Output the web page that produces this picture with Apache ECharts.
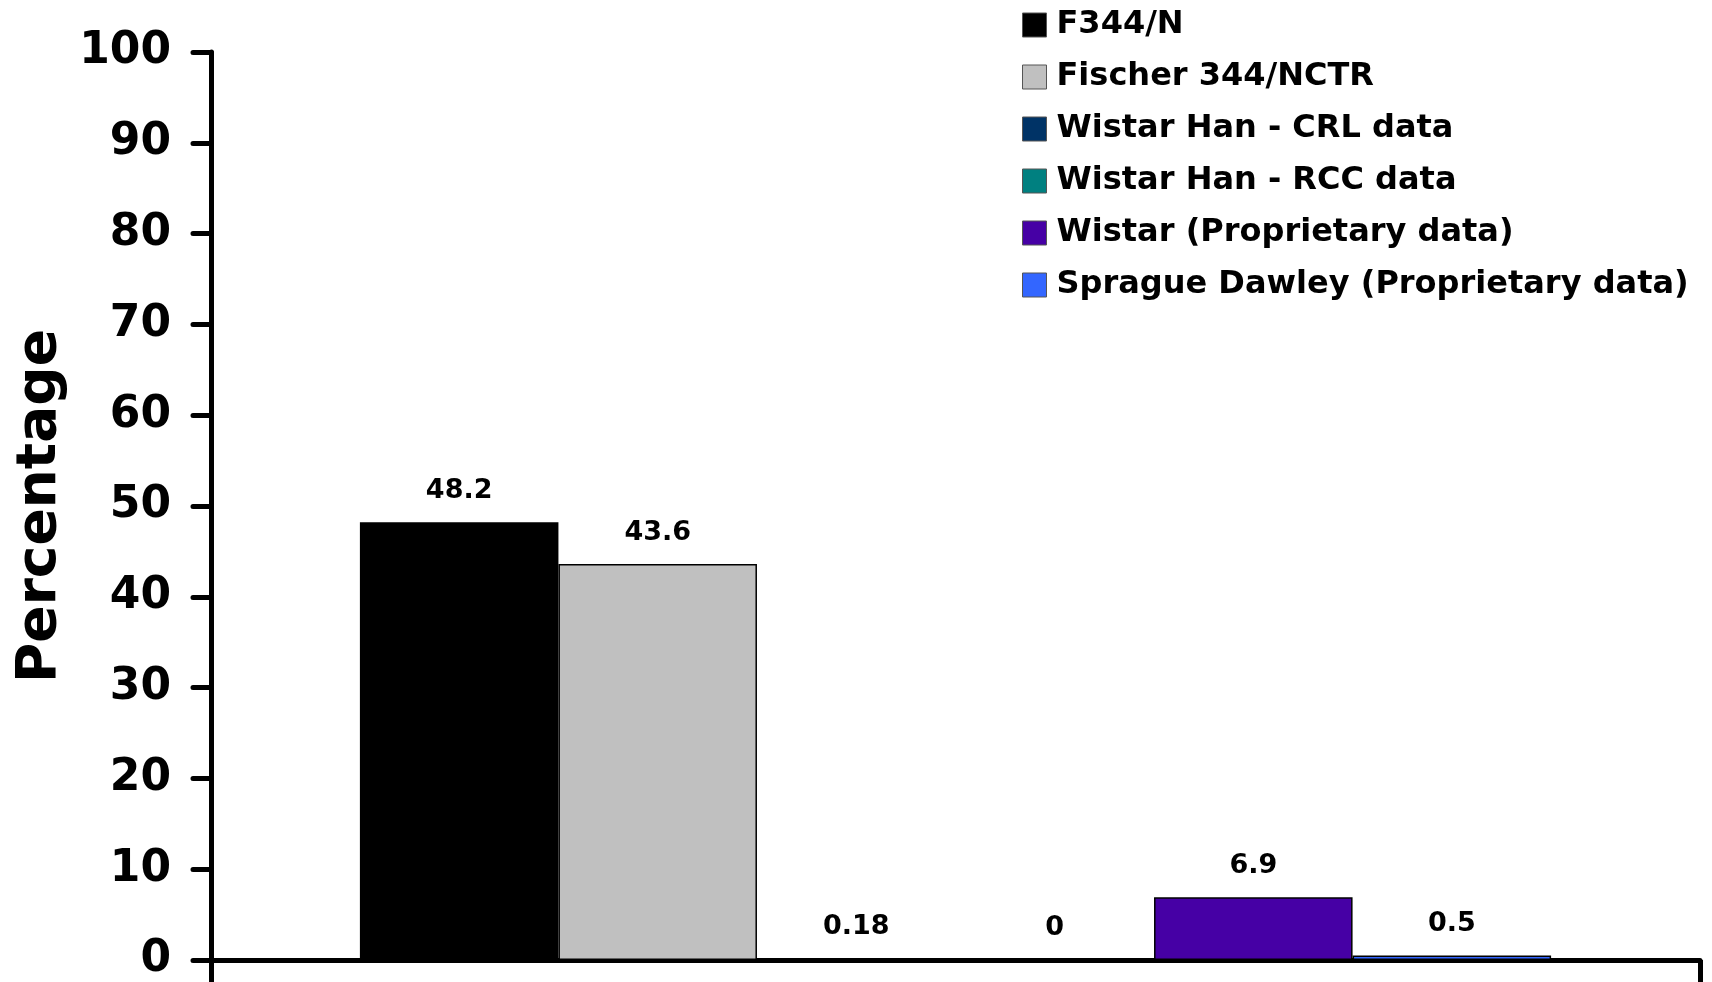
<!DOCTYPE html>
<html>
<head>
<meta charset="utf-8">
<script src="https://cdn.jsdelivr.net/npm/echarts@6/dist/echarts.min.js"></script>
<style>
html,body{margin:0;padding:0;background:#fff;}
#chart{width:1712px;height:982px;}
</style>
</head>
<body>
<div id="chart"></div>
<script>
const categories = [''];
const seriesNames = ['F344/N', 'Fischer 344/NCTR', 'Wistar Han - CRL data', 'Wistar Han - RCC data', 'Wistar (Proprietary data)', 'Sprague Dawley (Proprietary data)'];
const seriesValues = [48.2, 43.6, 0.18, 0, 6.9, 0.5];
const seriesColors = ['#000000', '#C0C0C0', '#003366', '#008080', '#4600A5', '#3366FF'];
const yTicks = { min: 0, max: 100, interval: 10 };

const FONT = '"DejaVu Sans", Verdana, sans-serif';
const chart = echarts.init(document.getElementById('chart'), null, { renderer: 'canvas' });

const series = seriesNames.map((name, i) => ({
  name: name,
  type: 'bar',
  data: [seriesValues[i]],
  barGap: '0%',
  barCategoryGap: '20%',
  itemStyle: { color: seriesColors[i], borderColor: '#000', borderWidth: 1.5 },
  label: {
    show: true,
    position: 'top',
    distance: 18,
    color: '#000',
    fontFamily: FONT,
    fontWeight: 'bold',
    fontSize: 27
  },
  emphasis: { disabled: true },
  animation: false
}));

chart.setOption({
  animation: false,
  backgroundColor: '#fff',
  grid: { left: 211, right: 12, top: 52, bottom: 20, containLabel: false },
  legend: {
    orient: 'vertical',
    left: 1017,
    top: 4,
    itemWidth: 24,
    itemHeight: 24,
    itemGap: 20,
    icon: 'rect',
    selectedMode: false,
    itemStyle: { borderColor: '#555', borderWidth: 1 },
    textStyle: { color: '#000', fontFamily: FONT, fontWeight: 'bold', fontSize: 32, lineHeight: 32, padding: [0, 0, 0, 5] },
    data: seriesNames
  },
  xAxis: {
    type: 'category',
    data: categories,
    axisLine: { show: true, lineStyle: { color: '#000', width: 5 } },
    axisTick: { show: true, length: 22, lineStyle: { color: '#000', width: 5 } },
    axisLabel: { show: false },
    splitLine: { show: false }
  },
  yAxis: {
    type: 'value',
    min: yTicks.min,
    max: yTicks.max,
    interval: yTicks.interval,
    name: 'Percentage',
    nameLocation: 'middle',
    nameGap: 142,
    nameTextStyle: { color: '#000', fontFamily: FONT, fontWeight: 'bold', fontSize: 55 },
    axisLine: { show: true, lineStyle: { color: '#000', width: 5 } },
    axisTick: { show: true, length: 18, lineStyle: { color: '#000', width: 5, cap: 'round' } },
    axisLabel: { color: '#000', fontFamily: FONT, fontWeight: 'bold', fontSize: 44, margin: 40 },
    splitLine: { show: false }
  },
  series: series
});
</script>
</body>
</html>
